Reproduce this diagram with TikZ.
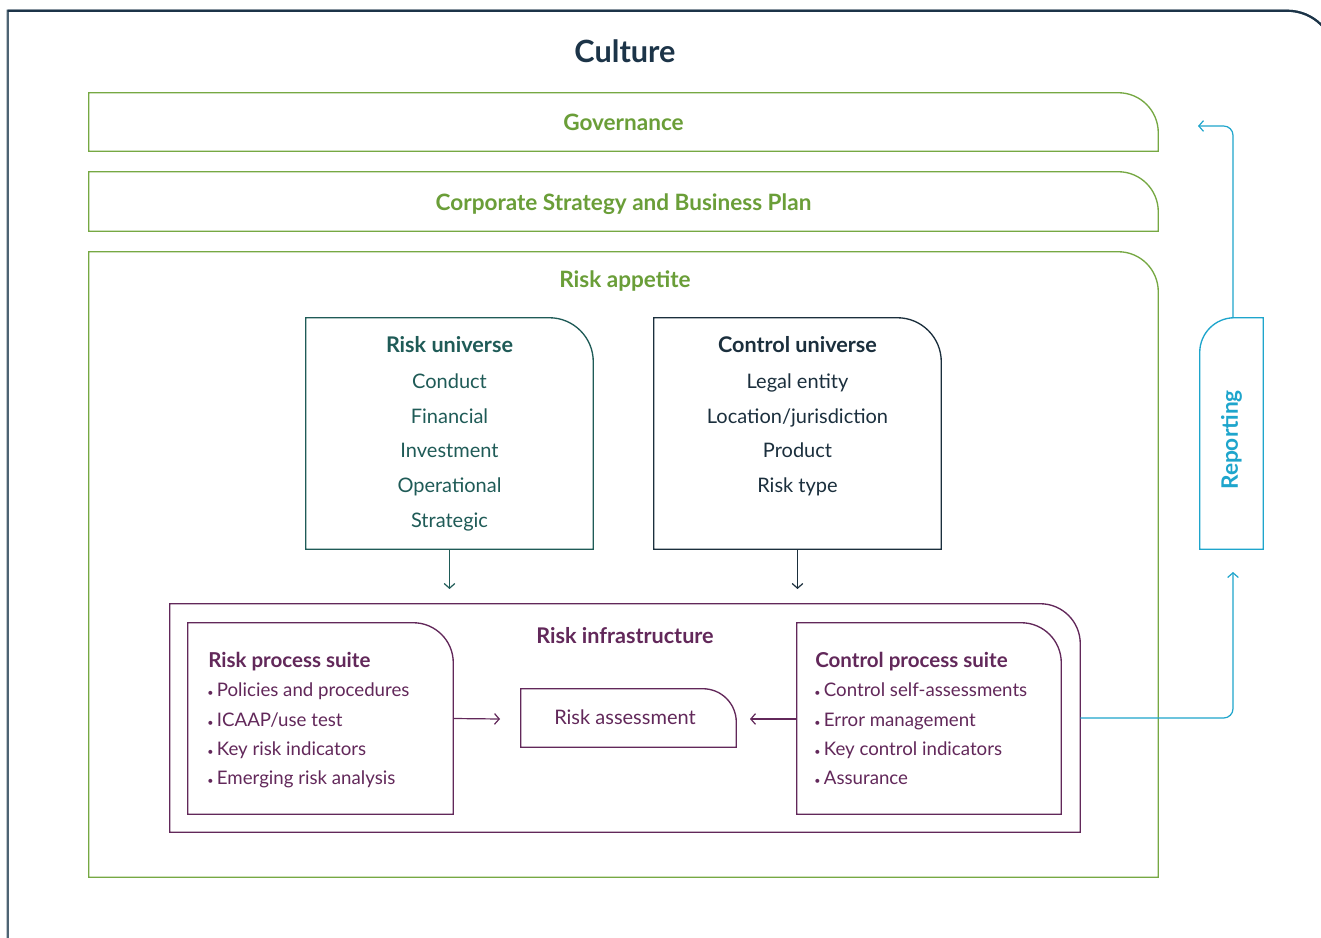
\documentclass[tikz,border=0pt]{standalone}
\usepackage{fontspec}
\setmainfont{Lato}
\usetikzlibrary{arrows.meta,fit}
\definecolor{cultc}{HTML}{1C3448}
\definecolor{cultl}{HTML}{4E6474}
\definecolor{grn}{HTML}{76A843}
\definecolor{grnt}{HTML}{6A9E38}
\definecolor{teal}{HTML}{1F5B57}
\definecolor{navy}{HTML}{1B2F3D}
\definecolor{purp}{HTML}{62285A}
\definecolor{cyan}{HTML}{1EA5CC}
\begin{document}
\begin{tikzpicture}[x=0.75pt,y=-0.75pt,
  frame/.style={inner sep=0pt},
  gline/.style={draw=grn, line width=1pt},
  gtitle/.style={text=grnt, font=\fontsize{16.9}{20}\selectfont\bfseries},
  bodytxt/.style={font=\fontsize{15}{18}\selectfont, anchor=base, inner sep=0pt},
  subtitle/.style={font=\fontsize{16.2}{19}\selectfont\bfseries, anchor=base, inner sep=0pt},
  subtitleb/.style={font=\fontsize{15.4}{18}\selectfont\bfseries, anchor=base west, inner sep=0pt},
  bullettxt/.style={font=\fontsize{14}{17}\selectfont, anchor=base west, inner sep=0pt},
  barb/.style={-{Straight Barb[length=3.5pt,width=8pt]}, line width=0.9pt},
]
\clip (0,0) rectangle (1321,938);
\fill[white] (0,0) rectangle (1321,938);

% Culture
\node[frame, fit={(8,11)(1335,960)}] (cult) {};
\draw[cultl, line width=1.6pt] (cult.south west) -- (cult.north west) [rounded corners=36pt] -- (cult.north east) [sharp corners] -- (cult.south east);
\draw[cultc, line width=1.6pt] (cult.north west) [rounded corners=36pt] -- (cult.north east) [sharp corners] -- (cult.south east);
\node[text=cultc, font=\fontsize{23}{27}\selectfont\bfseries] (culttxt) at (625,51) {Culture};

% Governance
\node[frame, fit={(89,93)(1158,151)}] (gov) {};
\draw[gline] (gov.south west) -- (gov.north west) [rounded corners=30pt] -- (gov.north east) [sharp corners] -- (gov.south east) -- cycle;
\node[gtitle] (govt) at (gov.center) {Governance};

% Corporate strategy
\node[frame, fit={(89,172)(1158,231)}] (corp) {};
\draw[gline] (corp.south west) -- (corp.north west) [rounded corners=30pt] -- (corp.north east) [sharp corners] -- (corp.south east) -- cycle;
\node[gtitle, yshift=-2.2pt] (corpt) at (corp.center) {Corporate Strategy and Business Plan};

% Risk appetite
\node[frame, fit={(89,252)(1158,877)}] (app) {};
\draw[gline] (app.south west) -- (app.north west) [rounded corners=30pt] -- (app.north east) [sharp corners] -- (app.south east) -- cycle;
\node[gtitle] (apptxt) at (625,281) {Risk appetite};

% Risk universe
\node[frame, fit={(306,318)(593,549)}] (ru) {};
\draw[teal, line width=1pt] (ru.south west) -- (ru.north west) [rounded corners=33pt] -- (ru.north east) [sharp corners] -- (ru.south east) -- cycle;
\node[subtitle, text=teal] (rut) at (449.5,352) {Risk universe};
\foreach \t/\y [count=\i] in {Conduct/388,Financial/423,Investment/457,Operational/492,Strategic/527}
  \node[bodytxt, text=teal] (ru\i) at (449.5,\y) {\t};

% Control universe
\node[frame, fit={(654,318)(941,549)}] (cu) {};
\draw[navy, line width=1pt] (cu.south west) -- (cu.north west) [rounded corners=33pt] -- (cu.north east) [sharp corners] -- (cu.south east) -- cycle;
\node[subtitle, text=navy] (cut) at (797.5,352) {Control universe};
\foreach \t/\y [count=\i] in {{Legal entity}/388,{Location/jurisdiction}/423,{Product}/457,{Risk type}/492}
  \node[bodytxt, text=navy] (cu\i) at (797.5,\y) {\t};

\coordinate (ruend) at (449.5,589);
\coordinate (cuend) at (797.5,589);
\draw[teal, barb] (ru.south) -- (ruend);
\draw[navy, barb] (cu.south) -- (cuend);

% Risk infrastructure
\node[frame, fit={(170,604)(1080,832)}] (inf) {};
\draw[purp, line width=1pt] (inf.south west) -- (inf.north west) [rounded corners=30pt] -- (inf.north east) [sharp corners] -- (inf.south east) -- cycle;
\node[subtitle, text=purp] (inft) at (625,643) {Risk infrastructure};

% Risk process suite
\node[frame, fit={(188,623)(453,814)}] (rps) {};
\draw[purp, line width=1pt] (rps.south west) -- (rps.north west) [rounded corners=30pt] -- (rps.north east) [sharp corners] -- (rps.south east) -- cycle;
\node[subtitleb, text=purp] (rpst) at (208,667) {Risk process suite};
\foreach \t/\y [count=\i] in {{Policies and procedures}/696,{ICAAP/use test}/726,{Key risk indicators}/755,{Emerging risk analysis}/784}
  \node[bullettxt, text=purp] (rps\i) at (207,\y) {{\fontsize{8}{10}\selectfont•}\hspace{2.6pt}\t};

% Control process suite
\node[frame, fit={(797,623)(1061,814)}] (cps) {};
\draw[purp, line width=1pt] (cps.south west) -- (cps.north west) [rounded corners=30pt] -- (cps.north east) [sharp corners] -- (cps.south east) -- cycle;
\node[subtitleb, text=purp] (cpst) at (815,667) {Control process suite};
\foreach \t/\y [count=\i] in {{Control self-assessments}/696,{Error management}/726,{Key control indicators}/755,{Assurance}/784}
  \node[bullettxt, text=purp] (cps\i) at (814,\y) {{\fontsize{8}{10}\selectfont•}\hspace{2.6pt}\t};

% Risk assessment
\node[frame, fit={(521,689)(736,747)}] (ra) {};
\draw[purp, line width=1pt] (ra.south west) -- (ra.north west) [rounded corners=25pt] -- (ra.north east) [sharp corners] -- (ra.south east) -- cycle;
\node[bodytxt, text=purp] (rat) at (625,724) {Risk assessment};

\coordinate (raL) at (500,719);
\coordinate (raR) at (750,719);
\draw[purp, barb] (rps.east) -- (raL);
\draw[purp, barb] (cps.west |- raR) -- (raR);

% Reporting
\node[frame, fit={(1200,318)(1263,549)}] (rep) {};
\draw[cyan, line width=1pt] (rep.north east) -- (rep.south east) -- (rep.south west) [rounded corners=26pt] -- (rep.north west) [sharp corners] -- cycle;
\node[rotate=90, text=cyan, font=\fontsize{17}{20}\selectfont\bfseries] (rept) at (1231.5,440) {Reporting};

\coordinate (govin) at (1198,126);
\coordinate (repin) at (1233,572);
\draw[cyan, barb, rounded corners=7pt] (1233,318) |- (govin);
\draw[cyan, barb, rounded corners=7pt] (inf.east) -| (repin);
\end{tikzpicture}
\end{document}
